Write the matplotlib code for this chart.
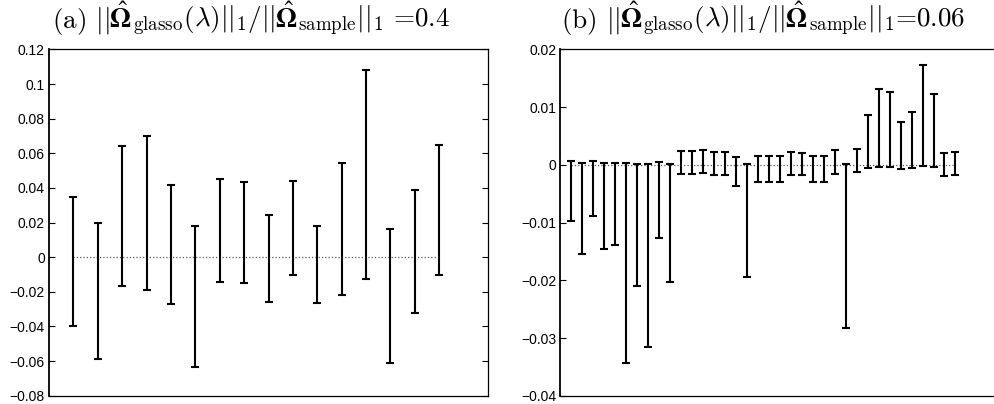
import matplotlib
matplotlib.use("Agg")
import matplotlib.pyplot as plt
from matplotlib.offsetbox import TextArea, HPacker, AnchoredOffsetbox
import numpy as np

plt.rcParams['mathtext.fontset'] = 'cm'
plt.rcParams['font.family'] = ['Liberation Sans', 'DejaVu Sans']

# (a) interval bounds, ratio 0.4
lo_a = [-0.0396, -0.0588, -0.0167, -0.0190, -0.0271, -0.0635, -0.0142, -0.0150,
        -0.0261, -0.0103, -0.0263, -0.0219, -0.0126, -0.0613, -0.0321, -0.0101]
hi_a = [0.0349, 0.0200, 0.0642, 0.0703, 0.0417, 0.0180, 0.0451, 0.0436,
        0.0243, 0.0440, 0.0182, 0.0547, 0.1083, 0.0164, 0.0391, 0.0651]

# (b) interval bounds, ratio 0.06
lo_b = [-0.0097, -0.0155, -0.0089, -0.0145, -0.0139, -0.0343, -0.0209, -0.0316,
        -0.0126, -0.0203, -0.0015, -0.0015, -0.0014, -0.0018, -0.0017, -0.0037,
        -0.0195, -0.0029, -0.0029, -0.0030, -0.0017, -0.0018, -0.0029, -0.0029,
        -0.0015, -0.0282, -0.0013, -0.0005, -0.0003, -0.0003, -0.0007, -0.0005,
        -0.0002, -0.0003, -0.0020, -0.0017]
hi_b = [0.00065, 0.0003, 0.00065, 0.0004, 0.0004, 0.0003, 0.0002, 0.0002,
        0.0005, 0.0002, 0.0024, 0.0024, 0.0026, 0.0022, 0.0023, 0.0013,
        0.0001, 0.0015, 0.0015, 0.0015, 0.0022, 0.0021, 0.0015, 0.0015,
        0.0025, 0.0001, 0.0028, 0.0086, 0.0131, 0.0127, 0.0074, 0.0091,
        0.0173, 0.0123, 0.0020, 0.0023]

labels = ["(a)", "(b)"]
ratio_text = [" =0.4", "=0.06"]

fig = plt.figure(figsize=(9.94, 4.04), dpi=100)
ax1 = fig.add_axes([0.0493, 0.0205, 0.4417, 0.857])
ax2 = fig.add_axes([0.5637, 0.0205, 0.4417, 0.857])

TSIZE = 19.5
cm_props = dict(family='cmr10', fontsize=TSIZE, math_fontfamily='cm')
# bold Greek is not in the cm set, so the Omegas come from STIX
bold_props = dict(fontsize=TSIZE, math_fontfamily='stix')
omega = r"$\hat{\boldsymbol{\Omega}}$"


def title(label, tail, cx):
    parts = [
        TextArea(label + r" $||$", textprops=cm_props),
        TextArea(omega, textprops=bold_props),
        TextArea(r"${}_{\mathrm{glasso}}(\lambda)||_1/||$", textprops=cm_props),
        TextArea(omega, textprops=bold_props),
        TextArea(r"${}_{\mathrm{sample}}||_1$" + tail, textprops=cm_props),
    ]
    box = HPacker(children=parts, align='baseline', pad=0, sep=0)
    anchored = AnchoredOffsetbox(loc='lower center', child=box, pad=0, borderpad=0,
                                 frameon=False, bbox_to_anchor=(cx, 0.905),
                                 bbox_transform=fig.transFigure)
    fig.add_artist(anchored)


def draw(ax, lo, hi, xmax, ylim, yticks, right_ticks=True):
    lo = np.array(lo)
    hi = np.array(hi)
    x = np.arange(1, len(lo) + 1)
    mid = (lo + hi) / 2
    ax.plot([1, len(lo)], [0, 0], ':', color='0.35', lw=0.9, zorder=1)
    ax.errorbar(x, mid, yerr=[mid - lo, hi - mid], fmt='none', ecolor='k',
                elinewidth=1.5, capsize=2.8, capthick=1.5, zorder=2)
    ax.set_xlim(0, xmax)
    ax.set_ylim(*ylim)
    ax.set_xticks([])
    ax.set_yticks(yticks)
    ax.set_yticklabels([('%g' % t).replace('-', '\u2212') for t in yticks])
    ax.tick_params(axis='y', direction='in', length=4, width=0.8,
                   right=right_ticks, labelsize=10, pad=3)
    for s in ax.spines.values():
        s.set_linewidth(0.9)
    ax.spines['left'].set_linewidth(1.3)


draw(ax1, lo_a, hi_a, 18, (-0.08, 0.12), np.round(np.arange(-0.08, 0.121, 0.02), 2))
draw(ax2, lo_b, hi_b, 40, (-0.04, 0.02), np.round(np.arange(-0.04, 0.021, 0.01), 2),
     right_ticks=False)
title(labels[0], ratio_text[0], 0.2525)
title(labels[1], ratio_text[1], 0.7676)

fig.savefig("out.png", dpi=100)
